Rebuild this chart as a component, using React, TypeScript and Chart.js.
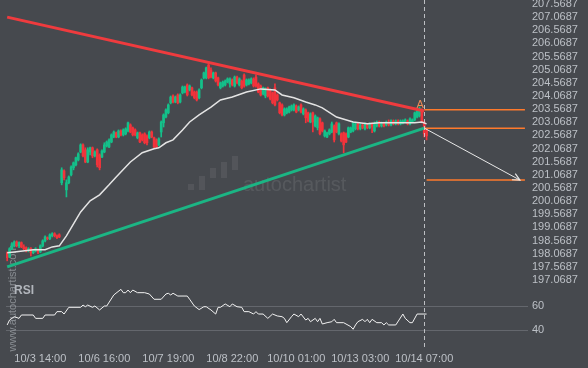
import React, { useEffect, useRef } from 'react';
import { Chart, registerables } from 'chart.js';

Chart.register(...registerables);

// ---------- data ----------
const TIME_TICK_IDX = [14, 41, 68, 95, 122, 149, 176];
const TIME_LABELS = ['10/3 14:00', '10/6 16:00', '10/7 19:00', '10/8 22:00', '10/10 01:00', '10/13 03:00', '10/14 07:00'];
const PRICE_TICKS = [207.5687, 207.0687, 206.5687, 206.0687, 205.5687, 205.0687, 204.5687, 204.0687, 203.5687, 203.0687, 202.5687, 202.0687, 201.5687, 201.0687, 200.5687, 200.0687, 199.5687, 199.0687, 198.5687, 198.0687, 197.5687, 197.0687];
const RSI_TICKS = [60, 40];

const OPEN = [198.11,197.95,198.26,198.41,198.52,198.37,198.49,198.33,198.30,198.18,198.26,198.11,198.18,198.22,198.14,198.37,198.56,198.68,198.64,198.75,198.83,198.75,198.79,
200.77,201.22,200.50,200.77,201.07,201.34,201.45,201.64,201.94,202.21,202.02,201.56,201.94,202.10,201.79,202.02,201.83,201.75,201.94,202.17,202.13,202.32,202.51,202.67,202.51,202.74,202.59,202.63,202.74,202.97,202.86,202.78,202.48,202.67,202.59,202.63,202.55,202.48,202.70,202.48,202.40,202.21,
202.70,203.05,203.27,203.43,203.81,204.07,203.84,204.11,203.84,204.19,204.22,204.49,204.30,204.38,204.22,204.22,204.00,204.38,204.76,204.76,205.25,205.06,204.76,204.95,204.76,204.38,204.45,204.49,204.60,204.53,204.68,204.45,204.79,204.49,204.64,204.87,204.49,204.53,204.57,204.72,204.79,204.53,204.45,204.15,204.07,204.38,204.30,204.19,204.38,204.11,203.81,203.73,203.35,203.43,203.46,203.54,203.54,203.69,203.54,203.73,203.39,
203.54,203.43,203.08,203.43,202.93,202.86,203.20,203.05,202.55,202.51,202.63,202.70,202.93,203.05,202.63,202.63,202.67,202.63,202.51,202.70,202.74,202.82,203.01,202.82,202.97,202.82,202.97,202.86,203.01,202.74,202.93,203.08,202.93,203.05,202.97,203.08,202.97,203.12,203.01,203.12,203.01,203.05,203.08,203.12,203.01,203.08,203.16,203.27,203.31,203.54,203.08,202.78];
const HIGH = [198.14,198.30,198.49,198.56,198.56,198.52,198.52,198.41,198.33,198.30,198.30,198.22,198.30,198.26,198.41,198.60,198.75,198.71,198.83,198.87,198.87,198.79,198.83,
201.34,201.26,200.88,201.03,201.41,201.56,201.75,201.91,202.25,202.25,202.10,202.10,202.13,202.13,201.98,202.06,201.87,202.02,202.29,202.36,202.44,202.63,202.74,202.70,202.78,202.78,202.82,202.86,203.08,203.01,202.89,202.82,202.70,202.70,202.63,202.67,202.59,202.74,202.74,202.51,202.44,202.48,
203.12,203.39,203.58,203.77,204.07,204.11,204.07,204.15,204.15,204.45,204.45,204.53,204.49,204.41,204.26,204.26,204.34,204.72,204.98,205.17,205.33,205.14,204.98,204.98,204.79,204.60,204.64,204.68,204.76,204.76,204.72,204.83,204.83,204.76,204.68,204.91,204.72,204.72,204.76,204.76,204.87,204.57,204.49,204.41,204.38,204.41,204.34,204.22,204.53,204.15,203.84,203.77,203.62,203.62,203.69,203.73,203.77,203.73,203.69,203.77,203.62,
203.58,203.46,203.43,203.46,203.35,203.27,203.24,203.08,202.78,202.70,202.82,203.08,202.97,203.08,203.05,202.67,202.70,202.67,202.89,202.89,203.08,203.05,203.05,203.01,203.01,203.05,203.01,203.05,203.05,203.08,203.12,203.12,203.08,203.08,203.12,203.16,203.16,203.16,203.16,203.16,203.16,203.16,203.20,203.16,203.24,203.20,203.46,203.54,203.65,203.58,203.12,202.82];
const LOW = [197.80,197.92,198.22,198.33,198.33,198.30,198.30,198.22,198.14,198.14,197.99,198.07,198.14,198.07,198.11,198.33,198.52,198.60,198.60,198.71,198.71,198.64,198.68,
200.69,200.88,200.23,200.73,201.03,201.26,201.41,201.60,201.91,201.75,201.53,201.53,201.83,201.72,201.75,201.37,201.26,201.72,201.91,202.13,202.10,202.29,202.48,202.48,202.48,202.55,202.55,202.59,202.70,202.67,202.55,202.55,202.44,202.29,202.36,202.25,202.21,202.44,202.48,202.10,202.10,202.17,
202.51,202.89,203.24,203.39,203.77,203.81,203.81,203.77,203.81,204.15,204.19,204.07,204.26,204.07,203.96,203.88,203.96,204.34,204.72,204.72,204.72,204.76,204.72,204.60,204.45,204.34,204.41,204.45,204.57,204.41,204.45,204.41,204.53,204.45,204.34,204.41,204.45,204.49,204.53,204.41,204.41,204.19,204.07,204.11,204.00,204.03,203.92,203.77,203.69,203.88,203.39,203.31,203.31,203.39,203.43,203.50,203.50,203.43,203.50,203.43,203.35,
203.05,203.08,203.05,202.70,202.89,202.78,202.59,202.70,202.51,202.48,202.59,202.67,202.32,202.67,202.59,202.32,201.91,202.29,202.48,202.67,202.70,202.78,202.78,202.78,202.82,202.78,202.82,202.82,202.67,202.70,202.89,202.89,202.89,202.89,202.93,202.93,202.93,202.97,202.97,202.97,202.97,203.01,203.05,202.97,202.97,203.05,203.12,203.24,203.27,203.05,202.51,202.40];
const CLOSE = [197.92,198.26,198.45,198.52,198.37,198.49,198.33,198.26,198.18,198.26,198.11,198.18,198.26,198.14,198.37,198.56,198.71,198.64,198.79,198.83,198.75,198.68,198.71,
201.26,200.96,200.77,200.99,201.37,201.53,201.72,201.87,202.21,201.79,201.56,202.02,202.10,201.79,201.94,201.45,201.34,201.98,202.21,202.32,202.40,202.59,202.70,202.51,202.74,202.59,202.78,202.82,203.05,202.70,202.59,202.59,202.67,202.32,202.40,202.29,202.29,202.70,202.51,202.13,202.13,202.44,
203.08,203.35,203.54,203.73,204.03,203.84,204.03,203.81,204.11,204.41,204.41,204.11,204.45,204.11,204.00,203.92,204.30,204.68,204.95,205.14,204.76,204.79,204.95,204.64,204.49,204.57,204.60,204.64,204.72,204.72,204.49,204.79,204.57,204.72,204.38,204.45,204.68,204.68,204.72,204.45,204.45,204.22,204.11,204.38,204.34,204.07,203.96,203.81,203.73,203.92,203.43,203.35,203.58,203.58,203.65,203.69,203.73,203.46,203.65,203.46,203.58,
203.24,203.12,203.39,203.08,203.31,203.24,202.63,202.74,202.74,202.67,202.78,203.01,202.40,202.70,203.01,202.36,202.21,202.32,202.86,202.86,203.05,203.01,202.82,202.97,202.86,203.01,202.86,203.01,202.89,203.01,203.08,202.93,203.05,202.93,203.08,202.97,203.12,203.01,203.12,203.01,203.12,203.12,203.16,203.01,203.20,203.16,203.43,203.50,203.58,203.08,202.63,202.55];

const MA_IDX = [0, 3, 11, 16, 19, 22, 25, 29, 31, 35, 39, 43, 46, 52, 57, 62, 64, 67, 70, 74, 77, 81, 86, 90, 95, 101, 107, 113, 116, 121, 126, 130, 133, 139, 146, 152, 157, 168, 172, 175, 177];
const MA_VAL = [198.11, 198.14, 198.22, 198.22, 198.33, 198.37, 198.75, 199.36, 199.66, 200.08, 200.31, 200.69, 200.99, 201.56, 201.91, 202.06, 202.10, 202.29, 202.40, 202.78, 203.08, 203.35, 203.65, 203.92, 204.03, 204.22, 204.34, 204.30, 204.11, 204.00, 203.84, 203.73, 203.62, 203.27, 203.08, 203.01, 203.05, 203.05, 203.05, 203.08, 203.01];

const RSI_IDX = [0,1,3,5,6,11,12,15,16,20,21,23,24,26,31,32,33,34,36,37,39,41,42,45,48,49,50,51,52,53,55,58,60,62,65,67,68,69,70,72,76,77,79,81,83,84,86,88,89,90,92,94,95,97,99,100,102,104,105,106,108,110,112,114,116,117,118,120,121,123,124,126,127,128,130,131,132,133,135,137,138,139,142,145,146,147,148,150,151,152,153,154,156,158,159,160,161,164,167,168,170,171,173,177];
const RSI_VAL = [44.2,48.3,51.1,49.7,52.5,52.5,49.7,49.7,52.5,52.5,55.3,55.3,53.3,58.9,58.9,60.8,59.4,60.8,58.9,60,56.7,60,60,69.2,73.9,71.1,71.1,73.3,71.1,73.3,71.1,71.1,70,65.6,65.6,70,70.6,69.2,70.6,68.3,68.3,65.6,60,57,59.4,59.4,56.7,53.3,58.9,58.9,61.7,59.4,61.7,59.4,58.9,55.3,55.3,53.3,55.3,53.3,53.3,49.7,53.3,51.7,51.1,49.7,46.1,51.1,53.3,51.1,53.3,48.3,49.7,46.9,49.7,46.9,49.7,45,46.1,46.9,48.9,46.1,46.1,42.8,40.6,44.2,46.9,48.9,46.9,48.9,46.1,48.9,46.1,46.1,44.2,46.1,44.2,44.2,53.3,49.7,46.1,46.1,53.3,53.3];

const RESIST_IDX = [0, 176];
const RESIST_VAL = [207.07, 203.50];
const SUPPORT_IDX = [0, 176];
const SUPPORT_VAL = [197.57, 202.85];
const FORECAST_IDX = [176, 216.4];
const FORECAST_VAL = [202.85, 200.87];
const LEVEL_VAL = [203.55, 202.84, 200.87];
const LEVEL_START = [176, 176, 177];
const LEVEL_END = 218.5;

// ---------- look ----------
const BG = 'rgb(70,73,78)';
const TEXT = 'rgb(188,192,198)';
const UP = '#14c08a';
const DOWN = '#f2333b';
const FONT = '"Liberation Sans", Arial, sans-serif';

const P_MAX = 207.721;
const P_MIN = 194.484;
const R_MAX = 315;
const R_MIN = 25;
const toPriceUnits = (r: number) => P_MIN + ((r - R_MIN) / (R_MAX - R_MIN)) * (P_MAX - P_MIN);

const bgPlugin = {
  id: 'bg',
  beforeDraw(chart: any) {
    const c = chart.ctx;
    c.save();
    c.fillStyle = BG;
    c.fillRect(0, 0, chart.width, chart.height);
    c.restore();
  },
};

const watermarkPlugin = {
  id: 'wm',
  beforeDatasetsDraw(chart: any) {
    const c = chart.ctx;
    c.save();
    // central logo
    c.fillStyle = 'rgba(255,255,255,0.07)';
    const bars = [[188, 184, 6], [199, 176, 14], [210, 168, 10], [221, 162, 16], [232, 156, 14]];
    bars.forEach(([x, y, h]) => c.fillRect(x, y, 6, h));
    c.fillStyle = 'rgba(255,255,255,0.09)';
    c.font = `20px ${FONT}`;
    c.textBaseline = 'middle';
    c.textAlign = 'left';
    c.fillText('autochartist', 243, 185);
    // vertical url
    c.translate(13, 298);
    c.rotate(-Math.PI / 2);
    c.fillStyle = 'rgba(190,195,200,0.55)';
    c.font = `11px ${FONT}`;
    c.textAlign = 'center';
    c.fillText('www.autochartist.com', 0, 0);
    c.restore();
    // RSI label
    c.save();
    c.fillStyle = 'rgb(178,182,188)';
    c.font = `bold 12px ${FONT}`;
    c.textBaseline = 'middle';
    c.fillText('RSI', 14, 291);
    c.restore();
  },
};

const overlayPlugin = {
  id: 'overlay',
  afterDatasetsDraw(chart: any) {
    const c = chart.ctx;
    const xs = chart.scales.x;
    const ys = chart.scales.y;
    const area = chart.chartArea;
    c.save();
    // dashed vertical at last time tick
    const vx = Math.round(xs.getPixelForValue(TIME_TICK_IDX[TIME_TICK_IDX.length - 1])) + 0.5;
    c.strokeStyle = 'rgba(210,212,216,0.85)';
    c.lineWidth = 1;
    c.setLineDash([4, 3]);
    c.beginPath();
    c.moveTo(vx, area.top);
    c.lineTo(vx, area.bottom + 2);
    c.stroke();
    c.setLineDash([]);
    // arrow head on forecast
    const meta = chart.getDatasetMeta(3);
    const p0 = meta.data[0];
    const p1 = meta.data[1];
    const ang = Math.atan2(p1.y - p0.y, p1.x - p0.x);
    c.strokeStyle = '#e8e8e8';
    c.lineWidth = 1.2;
    c.beginPath();
    c.moveTo(p1.x - 8 * Math.cos(ang - 0.45), p1.y - 8 * Math.sin(ang - 0.45));
    c.lineTo(p1.x, p1.y);
    c.lineTo(p1.x - 8 * Math.cos(ang + 0.45), p1.y - 8 * Math.sin(ang + 0.45));
    c.stroke();
    // "A" marker
    c.fillStyle = '#f08a55';
    c.font = `11px ${FONT}`;
    c.textAlign = 'center';
    c.textBaseline = 'alphabetic';
    c.fillText('A', xs.getPixelForValue(LEVEL_START[0]) - 4, ys.getPixelForValue(LEVEL_VAL[0]) - 2);
    c.restore();
  },
};

function lineDs(idx: number[], val: number[], color: string, width: number, order: number, axis = 'y') {
  return {
    type: 'line' as const,
    data: idx.map((x, i) => ({ x, y: val[i] })),
    borderColor: color,
    borderWidth: width,
    pointRadius: 0,
    tension: 0,
    fill: false,
    yAxisID: axis,
    order,
  };
}

export default function App() {
  const ref = useRef<HTMLCanvasElement>(null);
  useEffect(() => {
    const colors = OPEN.map((o, i) => (CLOSE[i] >= o ? UP : DOWN));
    const datasets: any[] = [
      lineDs(RESIST_IDX, RESIST_VAL, '#ef3b3e', 3, 1),
      lineDs(SUPPORT_IDX, SUPPORT_VAL, '#1bb584', 3, 1),
      lineDs(MA_IDX, MA_VAL, '#e4e4e4', 1.5, 2),
      lineDs(FORECAST_IDX, FORECAST_VAL, '#e8e8e8', 1, 1),
      ...LEVEL_VAL.map((v, k) => lineDs([LEVEL_START[k], LEVEL_END], [v, v], '#ff7a2c', 1.5, 1)),
      lineDs(RSI_IDX, RSI_VAL, '#f2f2f2', 1, 1, 'yr'),
      {
        type: 'bar',
        data: OPEN.map((_, i) => ({ x: i, y: [LOW[i], HIGH[i]] })),
        backgroundColor: colors,
        barThickness: 1,
        grouped: false,
        borderWidth: 0,
        yAxisID: 'y',
        order: 6,
      },
      {
        type: 'bar',
        data: OPEN.map((o, i) => ({ x: i, y: [o, CLOSE[i]] })),
        backgroundColor: colors,
        barThickness: 2,
        minBarLength: 1,
        grouped: false,
        borderWidth: 0,
        yAxisID: 'y',
        order: 5,
      },
    ];
    const nPrice = PRICE_TICKS.length;
    const chart = new Chart(ref.current as HTMLCanvasElement, {
      type: 'bar',
      data: { datasets },
      options: {
        animation: false,
        responsive: false,
        devicePixelRatio: 1,
        events: [],
        layout: { padding: { left: 6, right: 0, top: 0, bottom: 0 } },
        plugins: { legend: { display: false }, tooltip: { enabled: false } },
        scales: {
          x: {
            type: 'linear',
            min: -0.5,
            max: 219.8,
            offset: false,
            grid: { display: false, drawTicks: false },
            border: { display: false },
            afterBuildTicks: (s: any) => {
              s.ticks = TIME_TICK_IDX.map((v) => ({ value: v }));
            },
            afterFit: (s: any) => {
              s.height = 20;
              s.paddingLeft = 0;
              s.paddingRight = 0;
            },
            ticks: {
              color: TEXT,
              font: { family: FONT, size: 11 },
              padding: 4,
              maxRotation: 0,
              autoSkip: false,
              callback: (_v: any, i: number) => TIME_LABELS[i],
            },
          },
          y: {
            type: 'linear',
            position: 'right',
            min: P_MIN,
            max: P_MAX,
            afterBuildTicks: (s: any) => {
              s.ticks = [...PRICE_TICKS.map((v) => ({ value: v })), ...RSI_TICKS.map((r) => ({ value: toPriceUnits(r) }))];
            },
            afterFit: (s: any) => {
              s.width = 60;
              s.paddingTop = 0;
              s.paddingBottom = 0;
            },
            grid: {
              drawTicks: false,
              color: (ctx: any) => (ctx.index >= nPrice ? 'rgba(120,124,130,0.6)' : 'rgba(0,0,0,0)'),
              lineWidth: 1,
            },
            border: { display: false },
            ticks: {
              color: TEXT,
              font: { family: FONT, size: 11 },
              padding: 4,
              autoSkip: false,
              callback: (v: any, i: number) => (i >= nPrice ? String(RSI_TICKS[i - nPrice]) : PRICE_TICKS[i].toFixed(4)),
            },
          },
          yr: {
            type: 'linear',
            display: false,
            min: R_MIN,
            max: R_MAX,
          },
        },
      } as any,
      plugins: [bgPlugin, watermarkPlugin, overlayPlugin],
    } as any);
    return () => chart.destroy();
  }, []);
  return (
    <div style={{ position: 'absolute', left: 0, top: 0, width: 588, height: 368, background: BG }}>
      <canvas ref={ref} width={588} height={368} style={{ display: 'block', width: 588, height: 368 }} />
    </div>
  );
}
